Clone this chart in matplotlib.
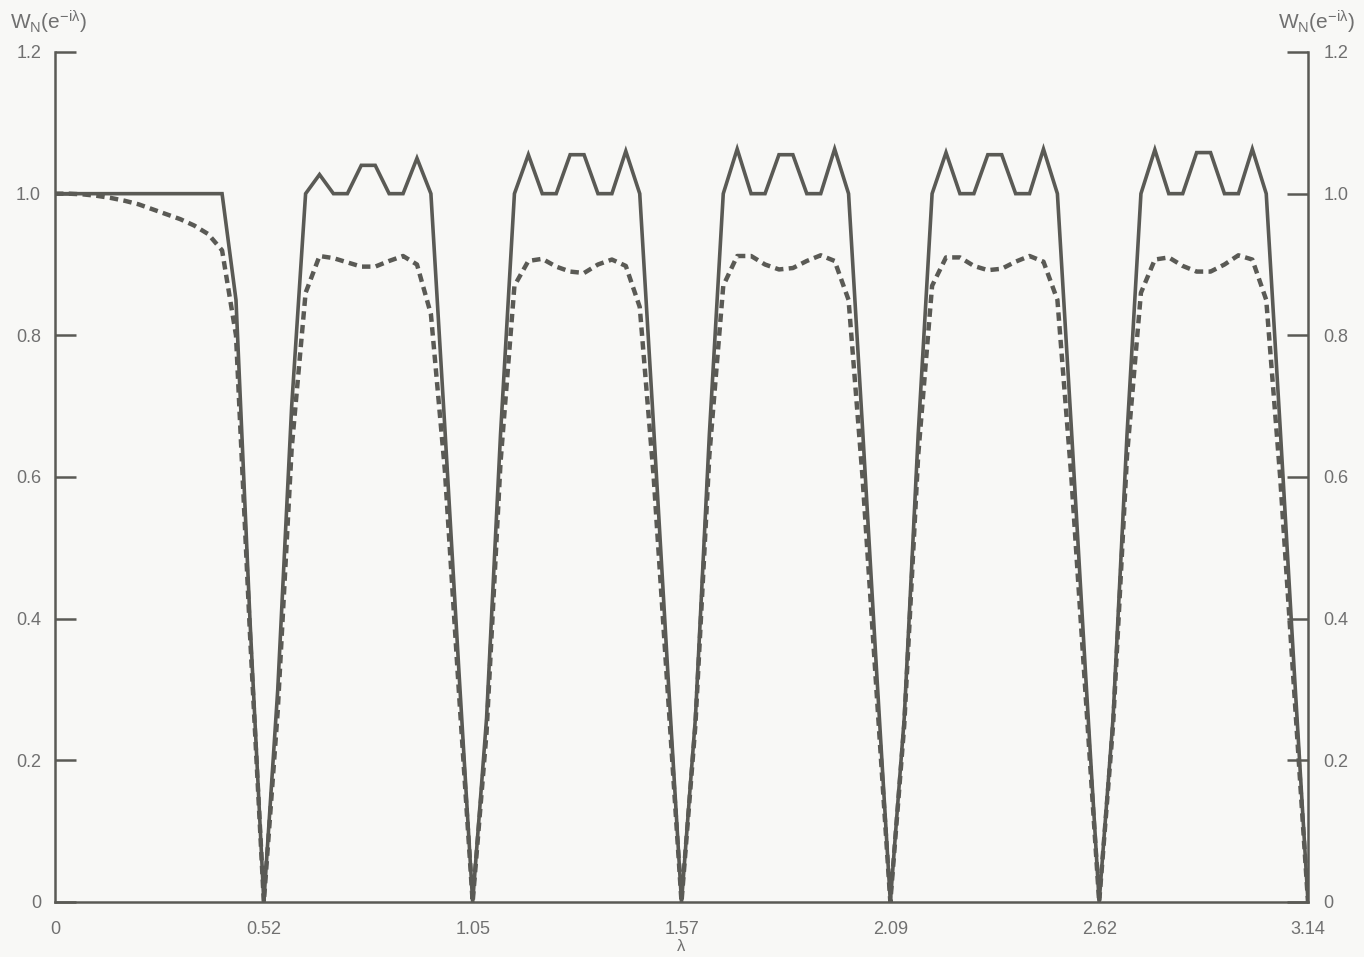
import numpy as np
import matplotlib
matplotlib.use("Agg")
import matplotlib.pyplot as plt

plt.rcParams['font.family'] = ['Liberation Sans', 'DejaVu Sans']
plt.rcParams['mathtext.fontset'] = 'custom'
plt.rcParams['mathtext.rm'] = 'Liberation Sans'
plt.rcParams['mathtext.it'] = 'Liberation Sans'
plt.rcParams['mathtext.sf'] = 'Liberation Sans'

# sample grid: every 2 degrees from 0 to 180 degrees (lambda in radians)
step_deg = 2
n_samples = 91

# solid curve, per band (15 samples each), final sample at pi
solid_b1 = [1.0, 1.0, 1.0, 1.0, 1.0, 1.0, 1.0, 1.0, 1.0, 1.0, 1.0, 1.0, 1.0, 0.85, 0.40]
solid_b2 = [0.0, 0.30, 0.70, 1.0, 1.027, 1.0, 1.0, 1.04, 1.04, 1.0, 1.0, 1.05, 1.0, 0.67, 0.33]
solid_b3 = [0.0, 0.26, 0.66, 1.0, 1.055, 1.0, 1.0, 1.055, 1.055, 1.0, 1.0, 1.06, 1.0, 0.67, 0.33]
solid_b4 = [0.0, 0.26, 0.66, 1.0, 1.063, 1.0, 1.0, 1.055, 1.055, 1.0, 1.0, 1.063, 1.0, 0.67, 0.33]
solid_b5 = [0.0, 0.26, 0.66, 1.0, 1.058, 1.0, 1.0, 1.055, 1.055, 1.0, 1.0, 1.063, 1.0, 0.67, 0.33]
solid_b6 = [0.0, 0.26, 0.66, 1.0, 1.062, 1.0, 1.0, 1.058, 1.058, 1.0, 1.0, 1.063, 1.0, 0.67, 0.33]
solid_end = [0.0]

# dashed curve, per band
dashed_b1 = [1.0, 1.0, 0.999, 0.997, 0.994, 0.99, 0.985, 0.978, 0.971, 0.964, 0.955, 0.943, 0.92, 0.80, 0.38]
dashed_b2 = [0.0, 0.27, 0.64, 0.86, 0.912, 0.909, 0.903, 0.897, 0.897, 0.905, 0.912, 0.90, 0.83, 0.61, 0.30]
dashed_b3 = [0.0, 0.24, 0.62, 0.87, 0.905, 0.908, 0.897, 0.89, 0.888, 0.90, 0.907, 0.898, 0.84, 0.60, 0.30]
dashed_b4 = [0.0, 0.25, 0.63, 0.87, 0.912, 0.912, 0.900, 0.893, 0.895, 0.905, 0.913, 0.905, 0.85, 0.60, 0.30]
dashed_b5 = [0.0, 0.25, 0.63, 0.87, 0.910, 0.910, 0.898, 0.892, 0.894, 0.904, 0.912, 0.904, 0.85, 0.60, 0.30]
dashed_b6 = [0.0, 0.25, 0.63, 0.86, 0.907, 0.910, 0.898, 0.890, 0.890, 0.900, 0.913, 0.907, 0.85, 0.60, 0.30]
dashed_end = [0.0]

xtick_vals = [0, np.pi / 6, np.pi / 3, np.pi / 2, 2 * np.pi / 3, 5 * np.pi / 6, np.pi]
xtick_labels = ["0", "0.52", "1.05", "1.57", "2.09", "2.62", "3.14"]
ytick_vals = [0, 0.2, 0.4, 0.6, 0.8, 1.0, 1.2]
ytick_labels = ["0", "0.2", "0.4", "0.6", "0.8", "1.0", "1.2"]
ylabel_text = r"$\mathrm{W_N(e^{-i\lambda})}$"

solid = np.array(solid_b1 + solid_b2 + solid_b3 + solid_b4 + solid_b5 + solid_b6 + solid_end)
dashed = np.array(dashed_b1 + dashed_b2 + dashed_b3 + dashed_b4 + dashed_b5 + dashed_b6 + dashed_end)
lam = np.deg2rad(np.arange(n_samples) * step_deg)

bg = "#f8f8f6"
line_c = "#5a5a55"
text_c = "#707070"

fig = plt.figure(figsize=(13.64, 9.57), dpi=100, facecolor=bg)
ax = fig.add_axes([55 / 1364, 1 - 902 / 957, (1308 - 55) / 1364, (902 - 52) / 957])
ax.set_facecolor(bg)

ax.plot(lam, dashed, color=line_c, lw=3.2, dashes=(1.9, 1.2), dash_capstyle='butt', zorder=2)
ax.plot(lam, solid, color=line_c, lw=2.6, solid_joinstyle='miter', zorder=3)

ax.set_xlim(0, np.pi)
ax.set_ylim(0, 1.2)

for s in ['left', 'right', 'bottom']:
    ax.spines[s].set_color(line_c)
    ax.spines[s].set_linewidth(1.8)
ax.spines['top'].set_visible(False)

ax.set_xticks(xtick_vals)
ax.set_xticklabels(xtick_labels)
ax.tick_params(axis='x', length=0, pad=14, labelsize=13, labelcolor=text_c)

ax.set_yticks(ytick_vals)
ax.set_yticklabels(ytick_labels)
ax.tick_params(axis='y', direction='in', length=15, width=1.8, color=line_c,
               pad=10, labelsize=13, labelcolor=text_c)

ax2 = ax.twinx()
ax2.set_ylim(0, 1.2)
ax2.set_yticks(ytick_vals)
ax2.set_yticklabels(ytick_labels)
ax2.tick_params(axis='y', direction='in', length=15, width=1.8, color=line_c,
                pad=11, labelsize=13, labelcolor=text_c)
for s in ['left', 'right', 'bottom', 'top']:
    ax2.spines[s].set_visible(False)

ax.set_xlabel(r"$\lambda$", fontsize=12, color=text_c, labelpad=0)

fig.text(10 / 1364, 1 - 22 / 957, ylabel_text, fontsize=15, color=text_c, ha='left', va='center')
fig.text(1355 / 1364, 1 - 22 / 957, ylabel_text, fontsize=15, color=text_c, ha='right', va='center')

fig.savefig("out.png", dpi=100, facecolor=bg)
